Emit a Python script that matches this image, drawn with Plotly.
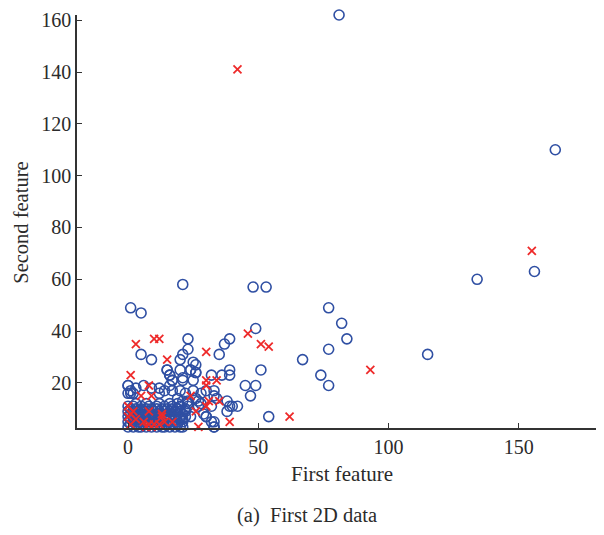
import plotly.graph_objects as go

# Blue circles (class 1): first feature, second feature
blue_x = [81, 164, 156, 134, 115, 77, 82, 84, 77, 67, 74, 77,
          21, 48, 53, 1, 5, 49, 39, 37, 23, 23, 35, 5, 9, 21, 20, 25, 26, 26, 24,
          15, 16, 51, 39, 39, 36, 32, 45, 49, 47, 54,
          25, 27, 33, 34, 32, 38, 39, 40, 42, 38, 30, 32, 33, 23, 28, 17, 21, 16, 33,
          15, 16, 17, 20, 21, 24, 25, 26,
          0, 0, 3, 6, 2, 9, 12, 12, 14, 17, 19, 22, 23, 26, 28, 30,
          0, 1, 1, 20, 21, 23, 22, 24, 21, 27, 29, 30, 33, 33,
          0, 2, 4, 5, 7, 9, 11, 13, 14, 16, 18, 20, 21,
          1, 3, 6, 8, 10, 12, 15, 17, 19,
          0, 2, 4, 6, 8, 10, 11, 13, 15, 17, 19, 21,
          1, 3, 5, 7, 9, 12, 14, 16, 18, 20,
          0, 2, 4, 6, 8, 10, 12, 14, 16, 18, 20, 22,
          1, 3, 5, 7, 9, 11, 13, 15, 17, 19, 21,
          0, 2, 4, 6, 8, 10, 12, 14, 16, 18, 20,
          1, 3, 5, 7, 9, 11, 13, 15, 17, 19, 22,
          0, 2, 5, 8, 11, 14, 17, 20,
          3, 7, 12, 16, 19]
blue_y = [162, 110, 63, 60, 31, 49, 43, 37, 33, 29, 23, 19,
          58, 57, 57, 49, 47, 41, 37, 35, 37, 33, 31, 31, 29, 31, 29, 28, 27, 24, 25,
          25, 23, 25, 25, 23, 23, 23, 19, 19, 15, 7,
          17, 13, 17, 14, 11, 13, 11, 11, 11, 9, 7, 5, 3, 12, 12, 21, 21, 19, 15,
          25, 23, 21, 25, 22, 25, 21, 24,
          19, 16, 18, 19, 16, 18, 18, 16, 17, 17, 14, 16, 13, 14, 16, 17,
          19, 17, 16, 17, 13, 11, 9, 7, 6, 11, 8, 7, 5, 3,
          3, 3, 3, 3, 3, 3, 3, 3, 3, 3, 3, 3, 3,
          4, 4, 4, 4, 4, 4, 4, 4, 4,
          5, 5, 5, 5, 5, 5, 5, 5, 5, 5, 5, 5,
          6, 6, 6, 6, 6, 6, 6, 6, 6, 6,
          7, 7, 7, 7, 7, 7, 7, 7, 7, 7, 7, 7,
          8, 8, 8, 8, 8, 8, 8, 8, 8, 8, 8,
          9, 9, 9, 9, 9, 9, 9, 9, 9, 9, 9,
          10, 10, 10, 10, 10, 10, 10, 10, 10, 10, 10,
          11, 11, 11, 11, 11, 11, 11, 11,
          12, 12, 12, 12, 12]

# Red crosses (class 2)
red_x = [42, 155, 93, 62, 46, 51, 54, 3, 10, 12, 30, 15, 1, 30, 34, 30,
         24, 31, 30, 35, 26, 27, 39, 8, 5, 9, 0, 2, 8,
         0, 3, 1, 6, 8, 10, 13, 14, 12, 17, 9, 7, 1, 13]
red_y = [141, 71, 25, 7, 39, 35, 34, 35, 37, 37, 32, 29, 23, 21, 21, 19,
         15, 13, 11, 13, 9, 3, 5, 19, 15, 15, 11, 9, 9,
         7, 6, 4, 5, 4, 4, 7, 5, 4, 5, 3, 3, 8, 8]

x_ticks = [0, 50, 100, 150]
y_ticks = [20, 40, 60, 80, 100, 120, 140, 160]

FONT = "Liberation Serif"
TXT = "#2b2b2b"

fig = go.Figure()
fig.add_trace(go.Scatter(
    x=blue_x, y=blue_y, mode="markers", cliponaxis=False,
    marker=dict(symbol="circle-open", size=10, color="#2f4fa3",
                line=dict(width=1.6, color="#2f4fa3")),
    showlegend=False))
fig.add_trace(go.Scatter(
    x=red_x, y=red_y, mode="markers", cliponaxis=False,
    marker=dict(symbol="x-thin-open", size=8, color="#ee2a2a",
                line=dict(width=1.8, color="#ee2a2a")),
    showlegend=False))

OFF = 8  # page body margin
W, H = 604, 535
Y0, Y1 = 2.6, 162.0
PXU = 2.626  # pixels per y unit
top_page = 428 - (Y1 - Y0) * PXU
L, T = 77 - OFF, top_page - OFF
R = W - (604 - OFF)
B = H - (428 - OFF)
pw, ph = W - L - R, H - T - B

fig.update_layout(
    width=W, height=H,
    margin=dict(l=L, r=R, t=T, b=B, pad=0),
    paper_bgcolor="white", plot_bgcolor="white",
    font=dict(family=FONT, size=20, color=TXT),
    xaxis=dict(range=[-19.6, 182.7], tickvals=x_ticks, ticks="inside", ticklen=5,
               tickwidth=1.2, tickcolor="#333", showline=True, linecolor="#333",
               linewidth=1.5, showgrid=False, zeroline=False, ticklabeloverflow="allow",
               tickfont=dict(family=FONT, size=20, color=TXT)),
    yaxis=dict(range=[Y0, Y1], tickvals=y_ticks, ticks="inside", ticklen=5,
               tickwidth=1.2, tickcolor="#333", showline=True, linecolor="#333",
               linewidth=1.5, showgrid=False, zeroline=False, ticklabeloverflow="allow",
               tickfont=dict(family=FONT, size=20, color=TXT)),
)

def px_to_paper(px, py):
    px -= OFF
    py -= OFF
    return (px - L) / pw, (H - B - py) / ph

ax, ay = px_to_paper(342, 475)
cx, cy = px_to_paper(307, 517)
sx, sy = px_to_paper(21, 220)
fig.add_annotation(text="First feature", x=ax, y=ay, xref="paper", yref="paper",
                   showarrow=False, xanchor="center", yanchor="middle",
                   font=dict(family=FONT, size=21, color=TXT))
fig.add_annotation(text="(a)  First 2D data", x=cx, y=cy, xref="paper", yref="paper",
                   showarrow=False, xanchor="center", yanchor="middle",
                   font=dict(family=FONT, size=20.5, color=TXT))
fig.add_annotation(text="Second feature", x=sx, y=sy, xref="paper", yref="paper",
                   showarrow=False, xanchor="center", yanchor="middle", textangle=-90,
                   borderpad=0, font=dict(family=FONT, size=20.5, color=TXT))

fig.write_html("out.html")
